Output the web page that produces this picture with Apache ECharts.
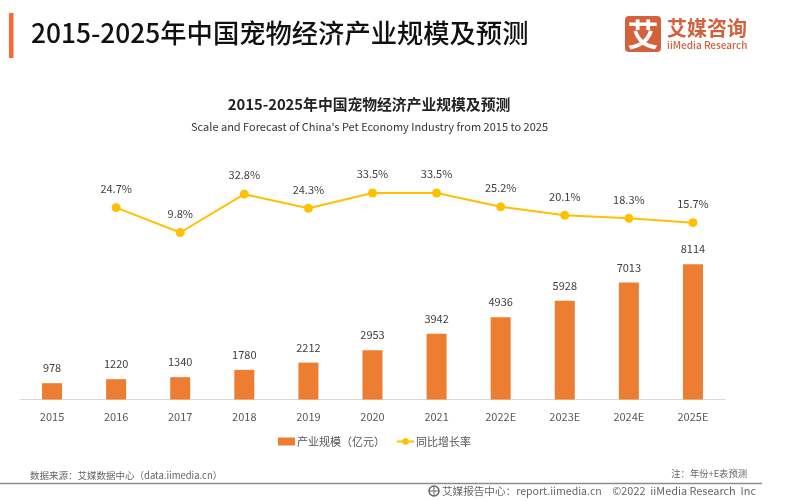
<!DOCTYPE html>
<html><head><meta charset="utf-8">
<style>html,body{margin:0;padding:0;background:#fff}#c{width:787px;height:501px}</style>
<script src="https://cdn.jsdelivr.net/npm/echarts@6/dist/echarts.min.js"></script>
</head><body><div id="c"></div>
<script>
const categories = ['2015','2016','2017','2018','2019','2020','2021','2022E','2023E','2024E','2025E'];
const marketSize = [978,1220,1340,1780,2212,2953,3942,4936,5928,7013,8114];
const growthRate = [null,24.7,9.8,32.8,24.3,33.5,33.5,25.2,20.1,18.3,15.7];
const F = '"Noto Sans CJK SC","Noto Sans",sans-serif';
const chart = echarts.init(document.getElementById('c'), null, {renderer:'canvas'});
const txt = (x,y,text,size,color,extra) => ({type:'text',x,y,silent:true,style:Object.assign({text,fontSize:size,fill:color,fontFamily:F,textVerticalAlign:'middle'},extra||{})});
chart.setOption({
  animation:false,
  backgroundColor:'#fff',
  grid:{left:20,right:62,top:140,height:259.5},
  legend:{
    top:431,left:273,itemGap:11,itemWidth:17,itemHeight:8,
    textStyle:{fontFamily:F,fontSize:11,color:'#555',padding:[0,0,0,-3]},
    data:[{name:'产业规模（亿元）',icon:'rect'},{name:'同比增长率'}]
  },
  xAxis:{type:'category',data:categories,
    axisLine:{lineStyle:{color:'#d9d9d9',width:1}},axisTick:{show:false},
    axisLabel:{fontFamily:F,fontSize:11,color:'#595959',margin:12,interval:0}},
  yAxis:[
    {type:'value',min:0,max:15570,show:false,splitLine:{show:false}},
    {type:'value',min:-90.4,max:65.3,show:false,splitLine:{show:false}}
  ],
  series:[
    {name:'产业规模（亿元）',type:'bar',data:marketSize,barWidth:20,itemStyle:{color:'#ed7d31'},
     label:{show:true,position:'top',distance:9.5,fontFamily:F,fontSize:11,color:'#404040'}},
    {name:'同比增长率',type:'line',yAxisIndex:1,data:growthRate,symbol:'circle',symbolSize:9,
     lineStyle:{color:'#ffc000',width:2},itemStyle:{color:'#ffc000'},
     label:{show:true,position:'top',distance:9,fontFamily:F,fontSize:11,color:'#404040',formatter:p=>p.value.toFixed(1)+'%'}}
  ],
  graphic:[
    {type:'rect',silent:true,shape:{x:9,y:13,width:4.5,height:45},style:{fill:'#ff6633'}},
    txt(31,33,'2015-2025年中国宠物经济产业规模及预测',26.3,'#111',{fontWeight:500}),
    txt(369,104,'2015-2025年中国宠物经济产业规模及预测',14.8,'#222',{fontWeight:700,textAlign:'center'}),
    txt(369.5,127,"Scale and Forecast of China's Pet Economy Industry from 2015 to 2025",11,'#333',{textAlign:'center'}),
    {type:'rect',silent:true,shape:{x:625,y:16,width:36,height:36,r:4},style:{fill:'#d4603c'}},
    txt(643,34,'艾',31,'#fff',{textAlign:'center',fontWeight:700}),
    txt(667,28,'艾媒咨询',20,'#d4603c',{fontWeight:700}),
    txt(667,45,'iiMedia Research',10,'#d4603c',{fontWeight:500}),
    txt(30,475,'数据来源：艾媒数据中心（data.iimedia.cn）',9.5,'#666'),
    txt(747,473,'注：年份+E表预测',9.3,'#666',{textAlign:'right'}),
    {type:'line',silent:true,shape:{x1:0,y1:483.5,x2:762,y2:483.5},style:{stroke:'#8c8c8c',lineWidth:1.5}},
    {type:'circle',silent:true,shape:{cx:434,cy:491,r:5},style:{fill:'#fff',stroke:'#666',lineWidth:1.5}},
    {type:'line',silent:true,shape:{x1:429,y1:491,x2:439,y2:491},style:{stroke:'#666',lineWidth:1}},
    {type:'line',silent:true,shape:{x1:434,y1:486,x2:434,y2:496},style:{stroke:'#666',lineWidth:1}},
    txt(442,491,'艾媒报告中心：report.iimedia.cn',10.6,'#666'),
    txt(756,491,'©2022  iiMedia Research  Inc',10.9,'#666',{textAlign:'right'})
  ]
});
</script></body></html>
